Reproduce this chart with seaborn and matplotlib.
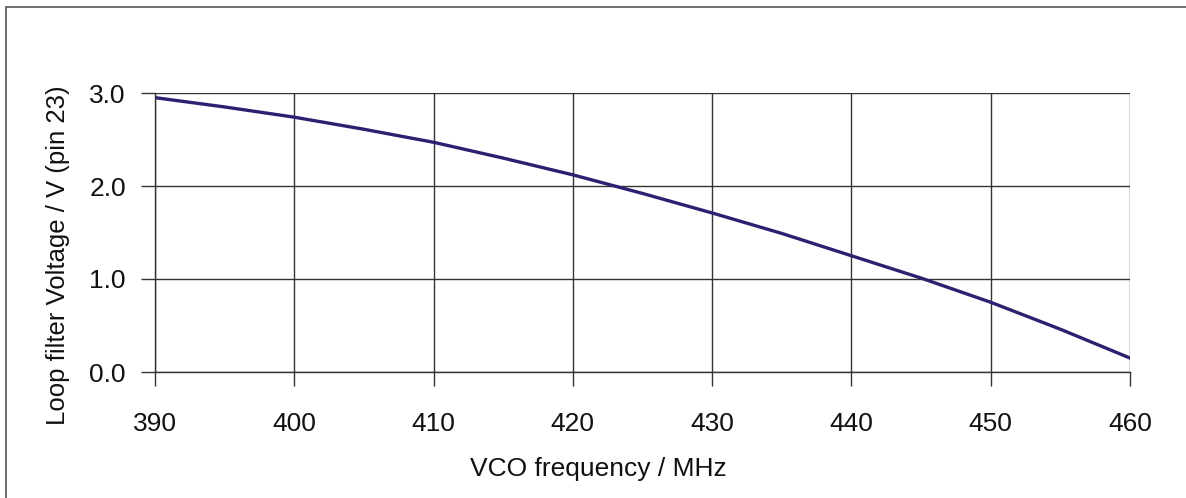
import matplotlib
matplotlib.use("Agg")
import matplotlib.pyplot as plt
import matplotlib.patches as mpatches
import pandas as pd
import seaborn as sns

# values
freq_mhz = [390, 395, 400, 405, 410, 415, 420, 425, 430, 435, 440, 445, 450, 455, 460]
voltage = [2.95, 2.85, 2.74, 2.61, 2.47, 2.30, 2.12, 1.92, 1.71, 1.49, 1.25, 1.01, 0.75, 0.46, 0.15]

x_ticks = [390, 400, 410, 420, 430, 440, 450, 460]
y_ticks = [0.0, 1.0, 2.0, 3.0]


def main():
    sns.set_style("white")
    plt.rcParams["font.family"] = ["Liberation Sans", "DejaVu Sans"]

    df = pd.DataFrame({"freq": freq_mhz, "volt": voltage})

    fig = plt.figure(figsize=(11.86, 4.98), dpi=100)
    ax = fig.add_axes([155 / 1186, 1 - 372 / 498, (1130 - 155) / 1186, (372 - 93) / 498])

    sns.lineplot(data=df, x="freq", y="volt", ax=ax, color="#2b2170", linewidth=2.4)

    ax.set_xlim(390, 460)
    ax.set_ylim(0, 3)
    ax.set_xticks(x_ticks)
    ax.set_yticks(y_ticks)
    ax.set_yticklabels([f"{v:.1f}" for v in y_ticks])
    ax.grid(True, color="#333333", linewidth=1.0)
    for s in ["top", "right"]:
        ax.spines[s].set_visible(False)
    for s in ["left", "bottom"]:
        ax.spines[s].set_color("#333333")
        ax.spines[s].set_linewidth(1.0)
    ax.tick_params(axis="both", direction="out", length=10, width=1.0, color="#333333",
                   labelsize=19, labelcolor="#111111", left=True, bottom=True)
    ax.tick_params(axis="x", pad=19)
    ax.tick_params(axis="y", pad=11)

    ax.set_xlabel("VCO frequency / MHz", fontsize=19, color="#111111")
    ax.set_ylabel("Loop filter Voltage / V (pin 23)", fontsize=18.5, color="#111111")
    ax.xaxis.set_label_coords(0.455, -0.305)
    ax.yaxis.set_label_coords(-0.087, 0.419)

    # outer frame around the chart
    frame = mpatches.Rectangle((6 / 1186, -0.1), 1.2, 1 - 7 / 498 + 0.1, transform=fig.transFigure,
                               fill=False, edgecolor="#555555", linewidth=1.2)
    fig.patches.append(frame)

    fig.savefig("out.png", dpi=100)


if __name__ == "__main__":
    main()
